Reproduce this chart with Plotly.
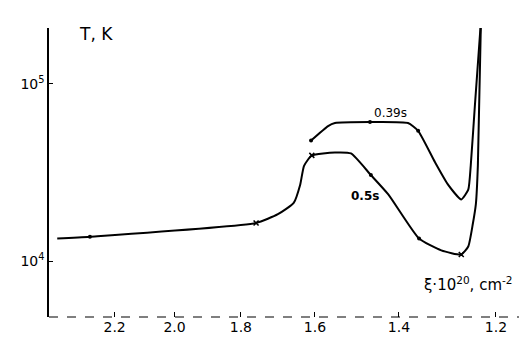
import math
import plotly.graph_objects as go

# lower curve (t = 0.5 s), xi in 1e20 cm^-2, T in K
xi_low = [2.41, 2.288, 1.757, 1.697, 1.655, 1.638, 1.628, 1.608, 1.550, 1.511, 1.464,
          1.424, 1.356, 1.309, 1.268, 1.254, 1.245, 1.239, 1.235, 1.229]
T_low = [13400, 13740, 16430, 18400, 21300, 27000, 34500, 39500, 41000, 40500, 30600,
         23800, 13400, 11500, 10900, 12100, 16200, 20900, 34800, 226000]

# upper curve (t = 0.39 s)
xi_up = [1.610, 1.567, 1.550, 1.466, 1.380, 1.358, 1.322, 1.295, 1.268, 1.254, 1.249, 1.241, 1.229]
T_up = [47900, 57800, 60100, 60900, 60100, 54300, 36100, 27000, 22300, 25300, 34800, 74700, 226000]

# marked points
dot_x = [2.288, 1.464, 1.356, 1.610, 1.466, 1.358]
dot_T = [13740, 30600, 13400, 47900, 60900, 54300]
cross_x = [1.757, 1.608, 1.268]
cross_T = [16430, 39500, 10900]

# curve labels
label_text = ["0.39s", "0.5s"]
label_x = [1.418, 1.477]
label_T = [68200, 23200]

x_ticks = [2.2, 2.0, 1.8, 1.6, 1.4, 1.2]
x_tick_labels = ["2.2", "2.0", "1.8", "1.6", "1.4", "1.2"]
y_ticks = [1e4, 1e5]
y_tick_labels = ["10<sup>4</sup>", "10<sup>5</sup>"]

fig = go.Figure()
fig.add_trace(go.Scatter(x=xi_low, y=T_low, mode="lines",
                         line=dict(color="black", width=2, shape="spline", smoothing=0.5),
                         showlegend=False, hoverinfo="skip"))
fig.add_trace(go.Scatter(x=xi_up, y=T_up, mode="lines",
                         line=dict(color="black", width=2, shape="spline", smoothing=0.5),
                         showlegend=False, hoverinfo="skip"))
fig.add_trace(go.Scatter(x=dot_x, y=dot_T, mode="markers",
                         marker=dict(color="black", size=4, symbol="circle"),
                         showlegend=False, hoverinfo="skip"))
fig.add_trace(go.Scatter(x=cross_x, y=cross_T, mode="markers",
                         marker=dict(color="black", size=5, symbol="x-thin",
                                     line=dict(color="black", width=1.5)),
                         showlegend=False, hoverinfo="skip"))

for t, lx, lT, bold in zip(label_text, label_x, label_T, [False, True]):
    fig.add_annotation(x=math.log10(lx), y=math.log10(lT), xref="x", yref="y",
                       text=f"<b>{t}</b>" if bold else t, showarrow=False,
                       font=dict(family="DejaVu Sans", size=12, color="black"))

fig.add_annotation(x=0.10, y=0.98, xref="paper", yref="paper", text="T, K", showarrow=False,
                   xanchor="center", yanchor="middle",
                   font=dict(family="DejaVu Sans", size=17, color="black"))
fig.add_annotation(x=0.888, y=0.115, xref="paper", yref="paper",
                   text="ξ·10<sup>20</sup>, cm<sup>-2</sup>", showarrow=False,
                   xanchor="center", yanchor="middle",
                   font=dict(family="DejaVu Sans", size=15, color="black"))

# dashed bottom axis line
fig.add_shape(type="line", xref="paper", yref="paper", x0=0, x1=1, y0=0, y1=0,
              line=dict(color="black", width=1.2, dash="dash"))

fig.update_xaxes(type="log", range=[0.3877, 0.0619], tickvals=x_ticks, ticktext=x_tick_labels,
                 ticks="inside", ticklen=5, tickcolor="black", showgrid=False, zeroline=False,
                 showline=False, tickfont=dict(family="DejaVu Sans", size=14, color="black"))
fig.update_yaxes(type="log", range=[3.685, 5.315], tickvals=y_ticks, ticktext=y_tick_labels,
                 ticks="inside", ticklen=4, tickcolor="black", showgrid=False, zeroline=False,
                 showline=True, linecolor="black", linewidth=1.5,
                 tickfont=dict(family="DejaVu Sans", size=14, color="black"))

fig.update_layout(width=527, height=339, margin=dict(l=41, r=14, t=20, b=24),
                  paper_bgcolor="white", plot_bgcolor="white")

fig.write_html("out.html")
